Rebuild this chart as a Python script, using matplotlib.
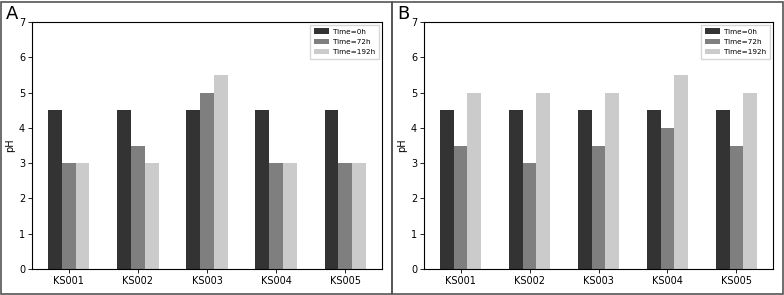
import numpy as np
import matplotlib.pyplot as plt
from matplotlib.patches import Rectangle

# 数据
samples = ['KS001', 'KS002', 'KS003', 'KS004', 'KS005']
times = ['Time=0h', 'Time=72h', 'Time=192h']
colors = ['#333333', '#7f7f7f', '#cbcbcb']

ph_a_0h = [4.5, 4.5, 4.5, 4.5, 4.5]
ph_a_72h = [3.0, 3.5, 5.0, 3.0, 3.0]
ph_a_192h = [3.0, 3.0, 5.5, 3.0, 3.0]

ph_b_0h = [4.5, 4.5, 4.5, 4.5, 4.5]
ph_b_72h = [3.5, 3.0, 3.5, 4.0, 3.5]
ph_b_192h = [5.0, 5.0, 5.0, 5.5, 5.0]

fig = plt.figure(figsize=(7.84, 2.95), dpi=100)
ax_a = fig.add_axes([32 / 784, 26 / 295, 350 / 784, 247 / 295])
ax_b = fig.add_axes([424 / 784, 26 / 295, 349 / 784, 247 / 295])

x = np.arange(len(samples))
w = 0.2

def draw(ax, series):
    for i, (vals, lab, c) in enumerate(zip(series, times, colors)):
        ax.bar(x + (i - 1) * w, vals, w, color=c, label=lab)
    ax.set_ylim(0, 7)
    ax.set_xticks(x)
    ax.set_xticklabels(samples, fontsize=7)
    ax.tick_params(axis='y', labelsize=7)
    ax.tick_params(length=3, width=0.6, pad=2)
    ax.set_ylabel('pH', fontsize=7, labelpad=3)
    for s in ax.spines.values():
        s.set_linewidth(0.8)
    ax.legend(loc='upper right', fontsize=5.2, frameon=True, fancybox=False,
              handlelength=2.1, handletextpad=0.55, borderpad=0.55,
              labelspacing=0.6, borderaxespad=0.35)

draw(ax_a, [ph_a_0h, ph_a_72h, ph_a_192h])
draw(ax_b, [ph_b_0h, ph_b_72h, ph_b_192h])

# 面板边框和标签
fig.patches.append(Rectangle((1 / 784, 1 / 295), 391 / 784, 292 / 295, transform=fig.transFigure,
                             fill=False, edgecolor='#555555', linewidth=1.2))
fig.patches.append(Rectangle((392 / 784, 1 / 295), 391 / 784, 292 / 295, transform=fig.transFigure,
                             fill=False, edgecolor='#555555', linewidth=1.2))
fig.text(6 / 784, 1 - 5 / 295, 'A', fontsize=13, va='top', ha='left')
fig.text(397 / 784, 1 - 5 / 295, 'B', fontsize=13, va='top', ha='left')

fig.savefig('out.png', dpi=100)
